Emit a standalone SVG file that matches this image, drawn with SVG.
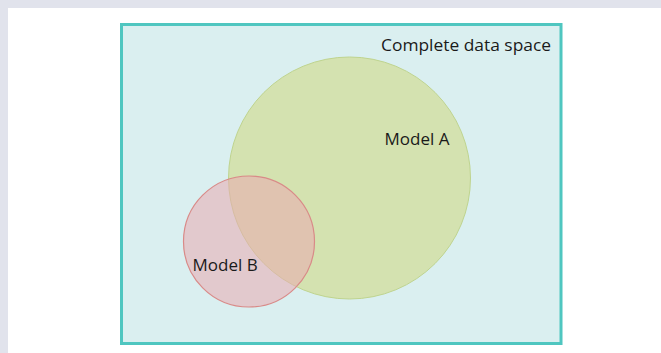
<svg xmlns="http://www.w3.org/2000/svg" width="661" height="353" viewBox="0 0 661 353">
<style>
.lbl{font-family:"Open Sans","Noto Sans","Liberation Sans",sans-serif;font-size:17px;fill:#1a1a1a}
</style>
<rect x="0" y="0" width="661" height="353" fill="#e1e3ec"/>
<rect x="8" y="8" width="653" height="345" fill="#ffffff"/>
<g id="space">
<rect x="121.5" y="24.5" width="439.5" height="319" fill="#daeff0" stroke="#4fc6c0" stroke-width="3"/>
<text class="lbl" x="551" y="50.5" text-anchor="end" textLength="170" lengthAdjust="spacingAndGlyphs">Complete data space</text>
</g>
<g id="modelA">
<circle cx="349.5" cy="178" r="121" fill="#d4e2b0" stroke="#bfd48f" stroke-width="1"/>
<text class="lbl" x="384.5" y="145">Model A</text>
</g>
<g id="modelB">
<circle cx="249" cy="241.5" r="65.5" fill="#eaaab0" fill-opacity="0.55" stroke="#d98a88" stroke-width="1.2"/>
<text class="lbl" x="192.5" y="270.5">Model B</text>
</g>
<g id="connectors"/>
</svg>
